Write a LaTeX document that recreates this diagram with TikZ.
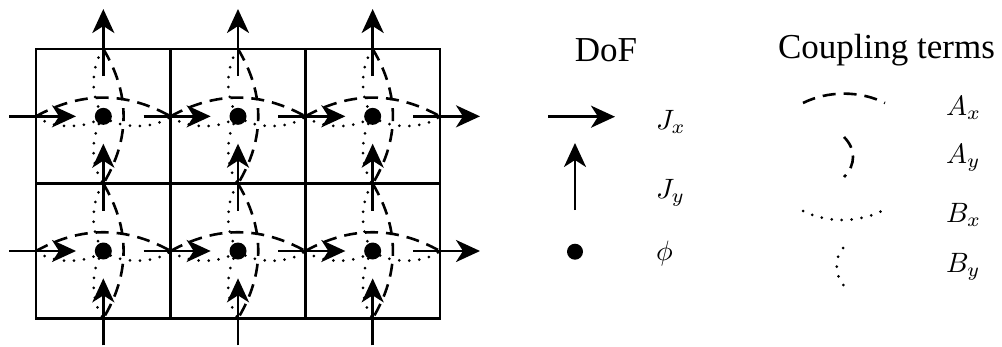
\documentclass[tikz,border=0pt]{standalone}
\usepackage{graphicx}
\usepackage{fontspec}
\setmainfont{Liberation Serif}
\usetikzlibrary{arrows.meta}
\newcommand\mlab[1]{\scalebox{2.8}{$#1$}}
\begin{document}
\begin{tikzpicture}[x=1pt,y=-1pt,
  every node/.style={inner sep=0pt,outer sep=0pt},
  gridline/.style={line width=2.8pt},
  dof/.style={line width=2.8pt,-{Stealth[length=24pt,width=22pt,inset=7pt]}},
  acoup/.style={line width=2.6pt,dash pattern=on 13pt off 8pt},
  bcoup/.style={line width=3pt,line cap=round,dash pattern=on 0pt off 10pt},
  phidot/.style={circle,fill=black,minimum size=17pt},
  lbl/.style={anchor=base west,font=\fontsize{10}{12}\selectfont},
  ttl/.style={anchor=base,font=\fontsize{35}{40}\selectfont}
]
\useasboundingbox (0,0) rectangle (1002,346);
\def\cs{134.67}
% grid vertices
\foreach \i in {0,...,3}{
  \foreach \j in {0,1,2}{
    \coordinate (v-\i-\j) at (36+\i*\cs,49+\j*\cs);
  }
}
\draw[gridline] (v-0-0) rectangle (v-3-2);
\draw[gridline] (v-1-0) -- (v-1-2);
\draw[gridline] (v-2-0) -- (v-2-2);
\draw[gridline] (v-0-1) -- (v-3-1);
% cells: phi nodes and side midpoints
\foreach \i in {0,1,2}{
  \foreach \j in {0,1}{
    \node[phidot] (p-\i-\j) at (36+\i*\cs+\cs/2,49+\j*\cs+\cs/2) {};
    \coordinate (L-\i-\j) at (36+\i*\cs,49+\j*\cs+\cs/2);
    \coordinate (R-\i-\j) at (36+\i*\cs+\cs,49+\j*\cs+\cs/2);
    \coordinate (T-\i-\j) at (36+\i*\cs+\cs/2,49+\j*\cs);
    \coordinate (B-\i-\j) at (36+\i*\cs+\cs/2,49+\j*\cs+\cs);
    \draw[acoup] (L-\i-\j) .. controls +(45,-25) and +(-45,-25) .. (R-\i-\j);
    \draw[acoup] (T-\i-\j) .. controls +(27,45) and +(27,-45) .. (B-\i-\j);
    \draw[bcoup] (L-\i-\j) .. controls +(16,13) and +(-16,13) .. (p-\i-\j.center)
                            .. controls +(16,13) and +(-16,13) .. (R-\i-\j);
    \draw[bcoup] (T-\i-\j) .. controls +(-13,18) and +(-13,-18) .. (p-\i-\j.center)
                            .. controls +(-13,18) and +(-13,-18) .. (B-\i-\j);
  }
}
% J_x arrows on vertical boundaries
\foreach \i in {0,...,3}{
  \foreach \j in {0,1}{
    \coordinate (h-\i-\j) at (36+\i*\cs,49+\j*\cs+\cs/2);
    \draw[dof] ([xshift=-27pt]h-\i-\j) -- ([xshift=40pt]h-\i-\j);
  }
}
% J_y arrows on horizontal boundaries
\foreach \i in {0,1,2}{
  \foreach \j in {0,1,2}{
    \coordinate (w-\i-\j) at (36+\i*\cs+\cs/2,49+\j*\cs);
    \draw[dof] ([yshift=-27pt]w-\i-\j) -- ([yshift=40pt]w-\i-\j);
  }
}
% legend: DoF
\node[ttl] (tdof) at (606,61) {DoF};
\coordinate (jxa) at (548,116.7);
\coordinate (jxb) at (615,116.7);
\draw[dof] (jxa) -- (jxb);
\coordinate (jya) at (575,210);
\coordinate (jyb) at (575,143);
\draw[dof] (jya) -- (jyb);
\node[phidot,minimum size=16pt] (phileg) at (575,251.7) {};
\node[lbl] (lJx) at (656,129) {\mlab{J_x}};
\node[lbl] (lJy) at (656,198) {\mlab{J_y}};
\node[lbl] (lphi) at (656,260) {\mlab{\phi}};
% legend: coupling terms
\node[ttl] (tcoup) at (886.5,58.5) {Coupling terms};
\coordinate (axa) at (803,103);
\coordinate (axb) at (885,103);
\draw[acoup] (axa) .. controls +(25,-12.5) and +(-25,-12.5) .. (axb);
\coordinate (aya) at (844,137);
\coordinate (ayb) at (844,177);
\draw[acoup] (aya) .. controls +(12,12) and +(12,-12) .. (ayb);
\coordinate (bxa) at (803,211);
\coordinate (bxb) at (882,211);
\draw[bcoup] (bxa) .. controls +(25,12) and +(-25,12) .. (bxb);
\coordinate (bya) at (843,248);
\coordinate (byb) at (844,286);
\draw[bcoup] (bya) .. controls +(-9,11) and +(-9,-11) .. (byb);
\node[lbl] (lAx) at (946,115) {\mlab{A_x}};
\node[lbl] (lAy) at (946,163) {\mlab{A_y}};
\node[lbl] (lBx) at (946,222) {\mlab{B_x}};
\node[lbl] (lBy) at (946,272) {\mlab{B_y}};
\end{tikzpicture}
\end{document}
